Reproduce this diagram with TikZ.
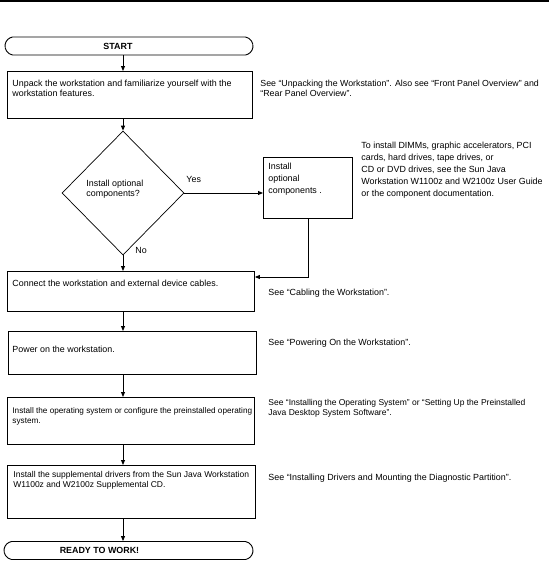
\documentclass[tikz,border=0pt]{standalone}
\usepackage{fontspec}
\setmainfont{Liberation Sans}
\usetikzlibrary{arrows.meta,shapes.geometric,shapes.misc,calc}
\begin{document}
\begin{tikzpicture}[x=1pt,y=-1pt,
  line width=0.9pt,
  box/.style={draw, rectangle, inner sep=0pt, anchor=north west},
  term/.style={draw, rounded rectangle, rounded rectangle arc length=160, inner sep=0pt, minimum height=18pt},
  dia/.style={draw, diamond, inner sep=0pt, minimum width=122pt, minimum height=124pt, line width=0.7pt},
  txt/.style={inner sep=0pt, anchor=west, align=left, font=\fontsize{8.9}{10}\selectfont},
  txts/.style={inner sep=0pt, anchor=west, align=left, font=\fontsize{8.2}{10}\selectfont},
  txtm/.style={inner sep=0pt, anchor=west, align=left, font=\fontsize{8.5}{10}\selectfont},
  txtw/.style={inner sep=0pt, anchor=west, align=left, font=\fontsize{8.9}{12}\selectfont},
  lbl/.style={inner sep=0pt, font=\fontsize{8.9}{10}\selectfont\bfseries},
  arr/.style={-{Triangle[length=5pt,width=4pt]}},
  rule/.style={line width=1.3pt}]
\useasboundingbox (0,0) rectangle (549,568);
\draw[rule] (0,1) -- (549,1);
\coordinate (colx) at (123,0);
\coordinate (c2) at (308,277);
% start
\node[term, minimum width=248pt] (start) at (129,46) {};
\node[lbl] (starttxt) at (118,46) {START};
% box 1
\node[box, minimum width=245pt, minimum height=47pt] (b1) at (7,71) {};
\node[txt] (b1t) at (12,88) {Unpack the workstation and familiarize yourself with the\\workstation features.};
\node[txt, font=\fontsize{8.8}{10}\selectfont] (r1) at (260,88) {See “Unpacking the Workstation”. Also see “Front Panel Overview” and\\“Rear Panel Overview”.};
% decision
\node[dia] (d) at (123,193) {};
\node[txt] (dt) at (86,189) {Install optional\\components?};
\node[txt] (yes) at (186,179) {Yes};
\node[txt] (no) at (135,250) {No};
% box 2
\node[box, minimum width=89pt, minimum height=61pt] (b2) at (263,157) {};
\node[txtw] (b2t) at (268,179) {Install\\optional\\components .};
\node[txtw] (r2) at (361,170) {To install DIMMs, graphic accelerators, PCI\\cards, hard drives, tape drives, or\\CD or DVD drives, see the Sun Java\\Workstation W1100z and W2100z User Guide\\or the component documentation.};
% box 3
\node[box, minimum width=247pt, minimum height=40pt] (b3) at (7,271) {};
\node[txt] (b3t) at (12,283) {Connect the workstation and external device cables.};
\node[txt] (r3) at (268,293) {See “Cabling the Workstation”.};
% box 4
\node[box, minimum width=248pt, minimum height=43pt] (b4) at (8,331) {};
\node[txt] (b4t) at (12,349) {Power on the workstation.};
\node[txt] (r4) at (268,343) {See “Powering On the Workstation”.};
% box 5
\node[box, minimum width=247pt, minimum height=47pt] (b5) at (7,397) {};
\node[txts] (b5t) at (12,416) {Install the operating system or configure the preinstalled operating\\system.};
\node[txtm] (r5) at (268,408) {See “Installing the Operating System” or “Setting Up the Preinstalled\\Java Desktop System Software”.};
% box 6
\node[box, minimum width=248pt, minimum height=53pt] (b6) at (7,465) {};
\node[txtm] (b6t) at (13,480) {Install the supplemental drivers from the Sun Java Workstation\\W1100z and W2100z Supplemental CD.};
\node[txt] (r6) at (268,478) {See “Installing Drivers and Mounting the Diagnostic Partition”.};
% end
\node[term, minimum width=249pt] (end) at (128.5,550.5) {};
\node[lbl] (endt) at (99.5,550.5) {READY TO WORK!};
% connectors
\draw[arr] (start.south -| colx) -- (b1.north -| colx);
\draw[arr] (b1.south -| colx) -- (d.north);
\draw[arr] (d.east) -- (b2.west |- d.east);
\draw[arr] (d.south) -- (b3.north -| colx);
\draw[arr] (b2.south -| c2) -- (c2) -- (b3.east |- c2);
\draw[arr] (b3.south -| colx) -- (b4.north -| colx);
\draw[arr] (b4.south -| colx) -- (b5.north -| colx);
\draw[arr] (b5.south -| colx) -- (b6.north -| colx);
\draw[arr] (b6.south -| colx) -- (end.north -| colx);
\end{tikzpicture}
\end{document}
